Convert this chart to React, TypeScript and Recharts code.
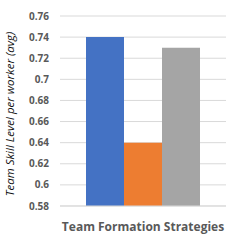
import { BarChart, Bar, XAxis, YAxis, CartesianGrid, Label } from "recharts";

const categories = ["Strategies"];
const seriesA = [0.74];
const seriesB = [0.64];
const seriesC = [0.73];
const yTicks = [0.58, 0.6, 0.62, 0.64, 0.66, 0.68, 0.7, 0.72, 0.74, 0.76];

const data = categories.map((name, i) => ({
  name,
  a: seriesA[i],
  b: seriesB[i],
  c: seriesC[i],
}));

const font = "'Open Sans', sans-serif";

export default function App() {
  return (
    <div style={{ position: "absolute", left: 0, top: 0, width: 240, height: 240, background: "#fff" }}>
      <BarChart
        width={240}
        height={240}
        data={data}
        margin={{ top: 16, right: 14, left: 0, bottom: 0 }}
        barCategoryGap={26}
        barGap={0}
      >
        <CartesianGrid vertical={false} stroke="#d9d9d9" />
        <XAxis
          dataKey="name"
          tick={false}
          tickLine={false}
          axisLine={{ stroke: "#d9d9d9" }}
          height={34}
        >
          <Label
            value="Team Formation Strategies"
            position="insideBottom"
            offset={9}
            style={{ fill: "#595959", fontSize: 12, fontWeight: 700, fontFamily: font }}
          />
        </XAxis>
        <YAxis
          domain={[0.58, 0.76]}
          ticks={yTicks}
          interval={0}
          width={60}
          axisLine={false}
          tickLine={false}
          tickSize={0}
          tickMargin={11}
          tickFormatter={(v: number) => String(Number(v.toFixed(2)))}
          tick={{ fill: "#595959", fontSize: 10, fontWeight: 700, fontFamily: font }}
        >
          <Label
            value="Team Skill Level per worker (avg)"
            angle={-90}
            position="insideLeft"
            offset={10}
            dy={3}
            style={{ textAnchor: "middle", fill: "#111", fontSize: 11.5, fontStyle: "italic", fontFamily: font }}
          />
        </YAxis>
        <Bar dataKey="a" fill="#4472C4" isAnimationActive={false} />
        <Bar dataKey="b" fill="#ED7D31" isAnimationActive={false} />
        <Bar dataKey="c" fill="#A5A5A5" isAnimationActive={false} />
      </BarChart>
    </div>
  );
}
